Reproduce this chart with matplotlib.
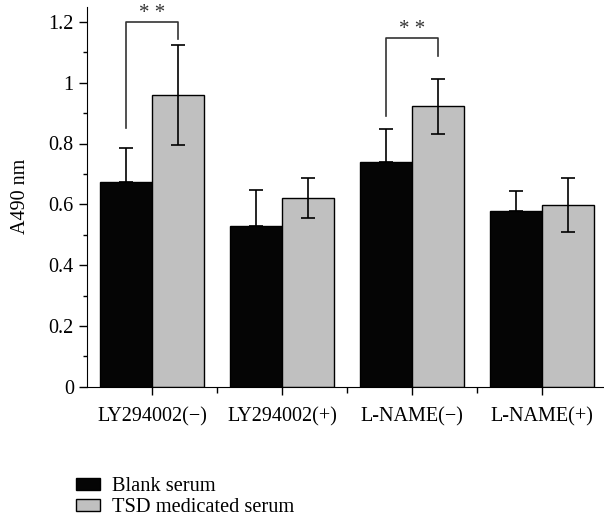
import matplotlib.pyplot as plt
import numpy as np
from matplotlib.ticker import MultipleLocator, FixedLocator

plt.rcParams['font.family'] = ['Liberation Serif', 'DejaVu Serif']

# data
groups = ['LY294002(\u2212)', 'LY294002(+)', 'L-NAME(\u2212)', 'L-NAME(+)']
blank = [0.672, 0.527, 0.740, 0.578]
blank_err = [0.113, 0.119, 0.107, 0.067]
tsd = [0.960, 0.621, 0.922, 0.598]
tsd_err = [0.164, 0.066, 0.090, 0.088]

fig = plt.figure(figsize=(6.04, 5.18), dpi=100)
ax = fig.add_axes([87/604, 131.3/518, 517/604, 380/518])

x = np.arange(len(groups)) + 0.5
w = 0.4
ax.bar(x - w/2, blank, w, color='#050505', edgecolor='black', linewidth=1,
       label='Blank serum', zorder=2)
ax.bar(x + w/2, tsd, w, color='#c0c0c0', edgecolor='black', linewidth=1,
       label='TSD medicated serum', zorder=2)
# black bars only show the upper half of the error bar
ax.errorbar(x - w/2, blank, yerr=[np.zeros(len(blank)), blank_err], fmt='none',
            ecolor='black', elinewidth=1.2, capsize=5, capthick=1.2, zorder=3)
ax.errorbar(x + w/2, tsd, yerr=tsd_err, fmt='none', ecolor='black',
            elinewidth=1.2, capsize=5, capthick=1.2, zorder=3)

# significance brackets
def bracket(i, y_left, y_top, y_right, y_star):
    xl, xr = x[i] - w/2, x[i] + w/2
    ax.plot([xl, xl, xr, xr], [y_left, y_top, y_top, y_right],
            color='#333333', lw=1.2, clip_on=False, zorder=4)
    ax.text((xl + xr) / 2, y_star, '* *', ha='center', va='center',
            fontsize=15, color='#333333', clip_on=False)

bracket(0, 0.85, 1.2, 1.143, 1.228)
bracket(2, 0.89, 1.146, 1.088, 1.175)

ax.set_xlim(0, 517/130)
ax.set_ylim(0, 1.25)
ax.spines['top'].set_visible(False)
ax.spines['right'].set_visible(False)
ax.spines['left'].set_bounds(0, 1.25)

ax.set_yticks([0, 0.2, 0.4, 0.6, 0.8, 1.0, 1.2])
ax.set_yticklabels(['0', '0.2', '0.4', '0.6', '0.8', '1', '1.2'])
ax.yaxis.set_minor_locator(MultipleLocator(0.1))
ax.set_xticks(x)
ax.set_xticklabels(groups)
ax.xaxis.set_minor_locator(FixedLocator([1, 2, 3]))
ax.tick_params(axis='both', which='major', length=6, width=1, labelsize=14.5,
               direction='out')
ax.tick_params(axis='y', which='minor', length=3, width=1, direction='out')
ax.tick_params(axis='x', which='minor', length=4, width=1, direction='out')
ax.tick_params(axis='x', which='major', pad=9)
ax.set_ylabel('A490 nm', fontsize=14.5, labelpad=13)

fig.legend(loc='upper left', bbox_to_anchor=(0.113, 0.094), frameon=False,
           fontsize=14.7, handlelength=1.15, handleheight=0.5,
           labelspacing=0.08, handletextpad=0.58, borderaxespad=0)

fig.savefig('out.png', dpi=100)
